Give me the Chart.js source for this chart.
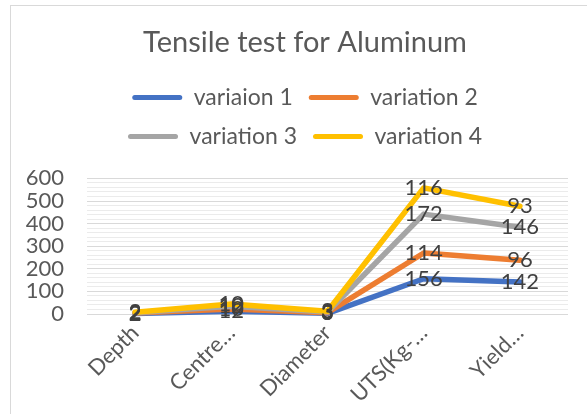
<!DOCTYPE html>
<html><head><meta charset="utf-8">
<script src="https://cdn.jsdelivr.net/npm/chart.js@4.4.0/dist/chart.umd.min.js"></script>
<style>
html,body{margin:0;padding:0;background:#fff;overflow:hidden;width:587px;height:414px;}
#frame{position:absolute;left:10px;top:5px;width:600px;height:430px;border:1px solid #d9d9d9;box-sizing:border-box;pointer-events:none;}
#wrap{position:absolute;left:10px;top:5px;width:590px;height:409px;}
</style></head><body>
<div id="wrap"><canvas id="c" width="590" height="409"></canvas></div>
<div id="frame"></div>
<script>
const chartTitle = 'Tensile test for Aluminum';
const categories = ['Depth', 'Centre…', 'Diameter', 'UTS(Kg-…', 'Yield…'];
const seriesNames = ['variaion 1', 'variation 2', 'variation 3', 'variation 4'];
const variation1 = [2, 12, 3, 156, 142];
const variation2 = [2, 10, 3, 114, 96];
const variation3 = [2, 12, 3, 172, 146];
const variation4 = [2, 10, 3, 116, 93];
const yMin = 0, yMax = 600, yStep = 20, yLabelStep = 100;

const colors = ['#4472C4', '#ED7D31', '#A5A5A5', '#FFC000'];
const FONT = 'Lato';
const TEXT = '#595959';

const legendRows = {
  id: 'legendRows',
  beforeUpdate(chart) {
    const lg = chart.legend;
    if (lg && !lg._patched) {
      const orig = lg.fit;
      lg.fit = function () {
        const mw = this.maxWidth;
        this.maxWidth = 430;
        orig.call(this);
        this.maxWidth = mw;
        if (this.isHorizontal()) { this.width = mw; this.height = 108.5; }
      };
      lg._patched = true;
    }
  }
};

const drawOrderAndLabels = {
  id: 'drawOrderAndLabels',
  beforeDatasetsDraw(chart) {
    const metas = chart.getSortedVisibleDatasetMetas();
    for (const m of metas) m.controller.draw();
    return false;
  },
  afterDraw(chart) {
    const ctx = chart.ctx;
    ctx.save();
    ctx.font = '22px ' + FONT;
    ctx.fillStyle = '#404040';
    ctx.textAlign = 'center';
    ctx.textBaseline = 'middle';
    chart.data.datasets.forEach((ds, i) => {
      const meta = chart.getDatasetMeta(i);
      meta.data.forEach((pt, j) => {
        ctx.fillText(String(ds.data[j]), pt.x, pt.y);
      });
    });
    ctx.restore();
  }
};

const seriesData = [variation1, variation2, variation3, variation4];

new Chart(document.getElementById('c'), {
  type: 'line',
  data: {
    labels: categories,
    datasets: seriesData.map((d, i) => ({
      label: seriesNames[i],
      data: d,
      borderColor: colors[i],
      backgroundColor: colors[i],
      borderWidth: 5.5,
      pointRadius: 0,
      pointHoverRadius: 0,
      tension: 0,
      fill: false,
      borderCapStyle: 'round',
      borderJoinStyle: 'round',
      yAxisID: 'y'
    }))
  },
  options: {
    responsive: false,
    devicePixelRatio: 1,
    animation: false,
    events: [],
    layout: { padding: { left: 0, right: 0, top: 0, bottom: 0 } },
    plugins: {
      title: {
        display: true,
        text: chartTitle,
        color: TEXT,
        font: { family: FONT, size: 29, weight: 'normal', lineHeight: 1.2 },
        padding: { top: 20.6, bottom: 9.5 }
      },
      legend: {
        display: true,
        position: 'top',
        labels: {
          boxWidth: 50,
          boxHeight: 5,
          padding: 16,
          color: TEXT,
          font: { family: FONT, size: 23 },
          useBorderRadius: true,
          borderRadius: 2.5,
          generateLabels(chart) {
            return chart.data.datasets.map((ds, i) => ({
              text: ds.label,
              fillStyle: ds.borderColor,
              strokeStyle: ds.borderColor,
              lineWidth: 0,
              hidden: false,
              datasetIndex: i,
              fontColor: TEXT,
              borderRadius: 2.5
            }));
          }
        }
      },
      tooltip: { enabled: false }
    },
    scales: {
      x: {
        offset: true,
        ticks: {
          color: TEXT,
          font: { family: FONT, size: 22 },
          maxRotation: 45,
          minRotation: 45,
          padding: 6,
          autoSkip: false
        },
        grid: { display: false, drawTicks: false },
        border: { display: false },
        afterFit(s) { s.height = 100; }
      },
      y: {
        stacked: true,
        min: yMin,
        max: yMax,
        ticks: {
          stepSize: yStep,
          autoSkip: false,
          padding: 23,
          color: TEXT,
          font: { family: FONT, size: 22 },
          callback: (v) => (v % yLabelStep === 0 ? v : '')
        },
        grid: {
          drawTicks: false,
          lineWidth: 1,
          color: (ctx) => (ctx.tick && ctx.tick.value % yLabelStep === 0 ? '#d9d9d9' : '#ebebeb')
        },
        border: { display: false },
        afterFit(s) { s.width = 77; }
      },
      yR: {
        type: 'linear',
        position: 'right',
        display: true,
        ticks: { display: false },
        grid: { display: false, drawTicks: false },
        border: { display: false },
        afterFit(s) { s.width = 32; }
      }
    }
  },
  plugins: [legendRows, drawOrderAndLabels]
});
</script>
</body></html>
